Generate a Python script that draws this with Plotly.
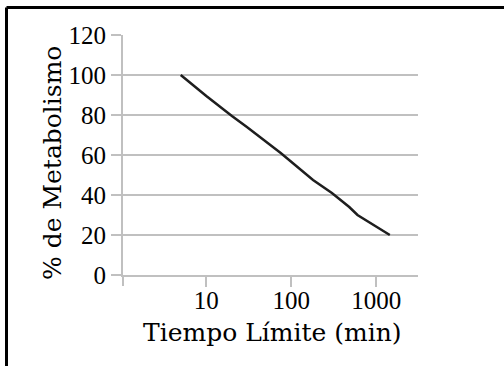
import plotly.graph_objects as go

# Data
tiempo_min = [5, 10, 20, 30, 75, 180, 300, 480, 600, 1440]
pct_metabolismo = [100, 89.5, 79.5, 74, 61, 47.5, 41, 34, 30, 20]
x_tick_vals = [10, 100, 1000]
x_tick_text = ["10", "100", "1000"]
y_tick_vals = [0, 20, 40, 60, 80, 100, 120]

W, H = 504, 366
L, R, T, B = 123, 86, 35, 91
PW, PH = W - L - R, H - T - B

def px(xp):
    return (xp - L) / PW

def py(yp):
    return (H - B - yp) / PH

GRID = "#c0c0c0"
TICK_FONT = dict(family="Liberation Serif", size=25, color="black")
TITLE_FONT = dict(family="DejaVu Serif", size=25, color="black")

fig = go.Figure()
fig.add_trace(go.Scatter(
    x=tiempo_min, y=pct_metabolismo, mode="lines",
    line=dict(color="#1e1e1e", width=2.5), showlegend=False,
))

fig.update_layout(
    width=W, height=H,
    margin=dict(l=L, r=R, t=T, b=B, pad=0),
    paper_bgcolor="white", plot_bgcolor="white",
    xaxis=dict(
        type="log", range=[0.02, 3.49],
        tickvals=x_tick_vals, ticktext=x_tick_text,
        ticks="outside", ticklen=10, tickwidth=2, tickcolor=GRID,
        ticklabelstandoff=-8,
        showgrid=False, zeroline=False,
        showline=True, linecolor=GRID, linewidth=2,
        tickfont=TICK_FONT,
    ),
    yaxis=dict(
        range=[0, 120], tickvals=y_tick_vals,
        ticks="outside", ticklen=10, tickwidth=2, tickcolor=GRID,
        showgrid=True, gridcolor=GRID, gridwidth=2, zeroline=False,
        showline=True, linecolor=GRID, linewidth=2,
        tickfont=TICK_FONT,
    ),
    shapes=[
        # y-axis line extension below zero
        dict(type="line", xref="paper", yref="paper", x0=0, x1=0, y0=0, y1=py(286),
             line=dict(color=GRID, width=2)),
        # frame (left and top edges)
        dict(type="line", xref="paper", yref="paper", x0=px(6.5), x1=px(6.5), y0=py(7.5), y1=py(380),
             line=dict(color="black", width=3)),
        dict(type="line", xref="paper", yref="paper", x0=px(6.5), x1=px(520), y0=py(7.5), y1=py(7.5),
             line=dict(color="black", width=3)),
    ],
    annotations=[
        dict(text="Tiempo Límite (min)", xref="paper", yref="paper",
             x=px(272.5), y=py(332), xanchor="center", yanchor="middle",
             showarrow=False, font=TITLE_FONT),
        dict(text="% de Metabolismo", xref="paper", yref="paper",
             x=px(52), y=py(163), xanchor="center", yanchor="middle",
             textangle=-90, showarrow=False, font=TITLE_FONT),
    ],
)

fig.write_html("out.html")
